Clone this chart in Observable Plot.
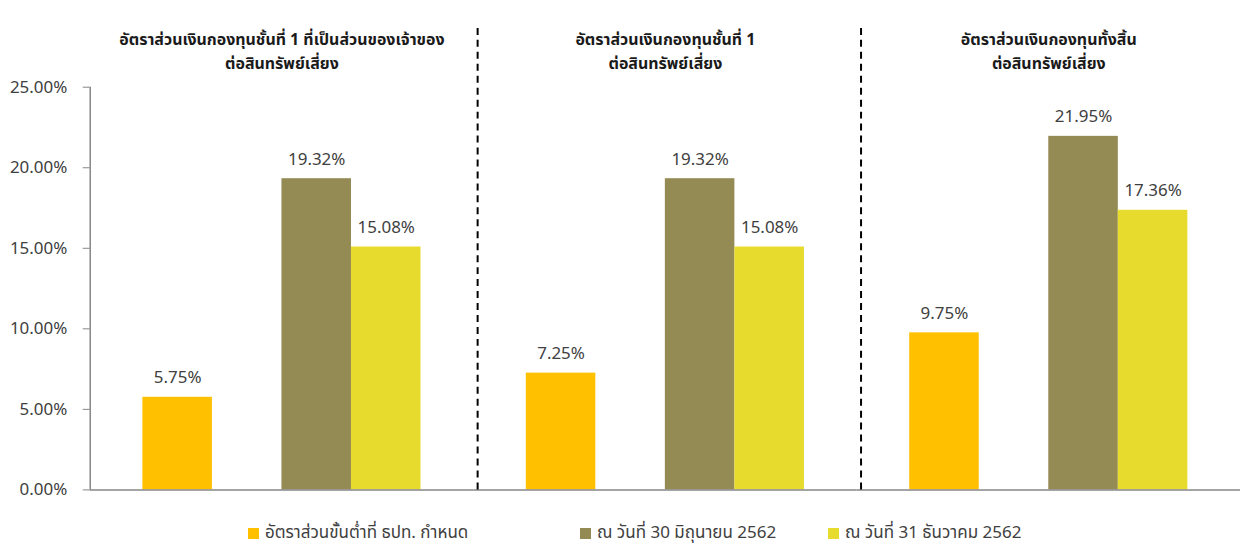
<!DOCTYPE html>
<html>
<head>
<meta charset="utf-8">
<script src="https://cdn.jsdelivr.net/npm/d3@7"></script>
<script src="https://cdn.jsdelivr.net/npm/@observablehq/plot@0.6"></script>
<style>
html, body { margin: 0; padding: 0; background: #fff; overflow: hidden; }
#wrap { width: 1240px; height: 547px; overflow: hidden; position: relative; font-family: Tahoma, "Noto Sans Thai", "Noto Sans", "Open Sans", sans-serif; }
#chart { position: absolute; left: 0; top: 0; }
#legend { position: absolute; left: 0; top: 520px; width: 1240px; height: 27px; }
.item { position: absolute; top: 5px; height: 17px; line-height: 17px; display: flex; align-items: center; font-size: 17px; color: #404040; white-space: nowrap; }
.sw { width: 11px; height: 11px; margin-right: 6px; flex: none; }
</style>
</head>
<body>
<div id="wrap"><div id="chart"></div><div id="legend"></div></div>
<script>
// ---- data ----
const groupTitles = [
  "อัตราส่วนเงินกองทุนชั้นที่ 1 ที่เป็นส่วนของเจ้าของ\nต่อสินทรัพย์เสี่ยง",
  "อัตราส่วนเงินกองทุนชั้นที่ 1\nต่อสินทรัพย์เสี่ยง",
  "อัตราส่วนเงินกองทุนทั้งสิ้น\nต่อสินทรัพย์เสี่ยง"
];
const seriesNames = [
  "อัตราส่วนขั้นต่ำที่ ธปท. กำหนด",
  "ณ วันที่ 30 มิถุนายน 2562",
  "ณ วันที่ 31 ธันวาคม 2562"
];
const minimumRatio = [5.75, 7.25, 9.75];
const june2019 = [19.32, 19.32, 21.95];
const dec2019 = [15.08, 15.08, 17.36];
const seriesColors = ["#FFC000", "#948A54", "#E7DB2D"];
const yTicks = [0, 5, 10, 15, 20, 25];

// ---- build table ----
const seriesValues = [minimumRatio, june2019, dec2019];
const rows = [];
groupTitles.forEach((g, i) => {
  seriesNames.forEach((s, j) => rows.push({group: g, series: s, value: seriesValues[j][i]}));
});
const spacer = " ";
const slots = [seriesNames[0], spacer, seriesNames[1], seriesNames[2]];

// ---- layout ----
const W = 1244, H = 520, ML = 90, MR = 0, MT = 28, MB = 29;
const PO = 0.757;
const fw = (W - ML - MR) / groupTitles.length;
const bw = fw / (slots.length + 2 * PO);
const edgeDx = -(bw * (0.5 + PO));
const fontFamily = 'Tahoma, "Noto Sans Thai", "Noto Sans", "Open Sans", sans-serif';
const fmt = d => d.toFixed(2) + "%";

const chart = Plot.plot({
  width: W, height: H,
  marginLeft: ML, marginRight: MR, marginTop: MT, marginBottom: MB,
  style: {fontFamily, background: "#fff", overflow: "visible"},
  fx: {domain: groupTitles, padding: 0, round: false, axis: null, label: null},
  x: {domain: slots, paddingInner: 0, paddingOuter: PO, round: false, axis: null, label: null},
  y: {domain: [0, 25], range: [491, 87], axis: null, label: null},
  color: {domain: seriesNames, range: seriesColors},
  marks: [
    Plot.barY(rows, {fx: "group", x: "series", y: "value", fill: "series", inset: 0}),
    Plot.text(rows, {fx: "group", x: "series", y: "value", text: d => fmt(d.value),
      lineAnchor: "bottom", dy: -14, fontSize: 17, fill: "#404040"}),
    Plot.ruleY([0], {stroke: "#868686", strokeWidth: 1.5}),
    Plot.ruleX([{g: groupTitles[0], s: slots[0]}], {fx: "g", x: "s", y1: 0, y2: 25, dx: edgeDx,
      stroke: "#868686", strokeWidth: 1.5}),
    Plot.ruleX([{g: groupTitles[1], s: slots[0]}, {g: groupTitles[2], s: slots[0]}],
      {fx: "g", x: "s", dx: edgeDx + 4, stroke: "#000", strokeWidth: 2, strokeDasharray: "7,5"}),
    Plot.axisY({ticks: yTicks, tickFormat: fmt, tickSize: 7, tickPadding: 16, label: null,
      stroke: "#868686", fill: "#404040", fontSize: 17}),
    Plot.text(groupTitles, {fx: d => d, text: d => d, frameAnchor: "top", lineAnchor: "top",
      fontWeight: "bold", fontSize: 16, lineHeight: 1.5, fill: "#1a1a1a"})
  ]
});
document.getElementById("chart").appendChild(chart);

// ---- legend ----
const legendLeft = [248, 580, 828];
const legend = document.getElementById("legend");
seriesNames.forEach((s, i) => {
  const it = document.createElement("div");
  it.className = "item";
  it.style.left = legendLeft[i] + "px";
  const sw = document.createElement("span");
  sw.className = "sw";
  sw.style.background = seriesColors[i];
  const tx = document.createElement("span");
  tx.textContent = s;
  it.appendChild(sw); it.appendChild(tx);
  legend.appendChild(it);
});
</script>
</body>
</html>
